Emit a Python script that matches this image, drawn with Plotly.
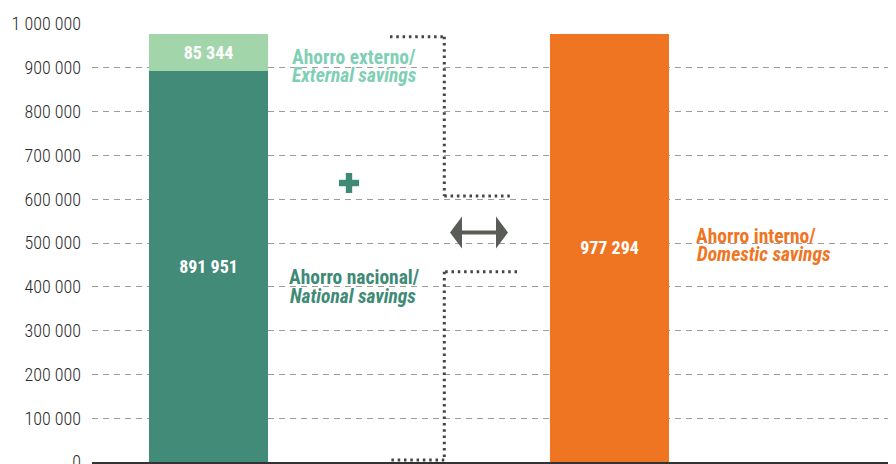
import plotly.graph_objects as go

# Data
bar_positions = [0, 1]
national_savings = [891951, None]
external_savings = [85344, None]
domestic_savings = [None, 977294]

y_tickvals = [0, 100000, 200000, 300000, 400000, 500000, 600000, 700000, 800000, 900000, 1000000]
y_ticktext = ["0", "100 000", "200 000", "300 000", "400 000", "500 000",
              "600 000", "700 000", "800 000", "900 000", "1 000 000"]

DARK_GREEN = "#428b78"
LIGHT_GREEN = "#a3d5aa"
ORANGE = "#f07522"
LABEL_EXT = "#80cfb5"
LABEL_NAT = "#3f8a76"
GREY = "#5a5c57"
FONT = "Roboto Condensed"

# the page body adds an 8px offset, so the figure is drawn 8px smaller
PAGE_OFF = 8
# plot area geometry (page pixels) used to place the decorations
X_LEFT, Y_TOP, Y_BOTTOM = 92, 24, 462
X_SCALE = 401.0        # px per x unit
Y_SCALE = 438.0 / 1e6  # px per y unit
X_RANGE = [-(208.5 - X_LEFT) / X_SCALE, 1 + (896 - 609.5) / X_SCALE]


def px2x(px):
    return (px - 208.5) / X_SCALE


def py2y(py):
    return (Y_BOTTOM - py) / Y_SCALE


def fmt(v):
    return f"{v:,}".replace(",", " ")


bar_width = 119 / X_SCALE
fig = go.Figure()

fig.add_trace(go.Bar(
    x=bar_positions, y=national_savings, width=bar_width,
    marker=dict(color=DARK_GREEN, line=dict(width=0)),
    text=[fmt(v) if v else "" for v in national_savings],
    name="Ahorro nacional"
))
fig.add_trace(go.Bar(
    x=bar_positions, y=external_savings, width=bar_width,
    marker=dict(color=LIGHT_GREEN, line=dict(width=0)),
    text=[fmt(v) if v else "" for v in external_savings],
    name="Ahorro externo"
))
fig.add_trace(go.Bar(
    x=bar_positions, y=domestic_savings, width=bar_width,
    marker=dict(color=ORANGE, line=dict(width=0)),
    text=[fmt(v) if v else "" for v in domestic_savings],
    name="Ahorro interno"
))
fig.update_traces(textposition="inside", insidetextanchor="middle",
                  textangle=0, cliponaxis=False,
                  textfont=dict(family=FONT, size=18, color="white", weight="bold"))

# Dotted brackets
dot_line = dict(color="#444444", width=3, dash="2.5px,3.8px")
top_bracket = [(390, 36.7), (444.3, 36.7), (444.3, 196), (512, 196)]
bottom_bracket = [(517, 271.7), (444.3, 271.7), (444.3, 460), (390, 460)]
for pts in (top_bracket, bottom_bracket):
    for (xa, ya), (xb, yb) in zip(pts[:-1], pts[1:]):
        fig.add_shape(type="line", xref="x", yref="y",
                      x0=px2x(xa), y0=py2y(ya), x1=px2x(xb), y1=py2y(yb),
                      line=dot_line, layer="above")

# Double arrow
ay = 232.5
arrow_pts = [(450, ay), (462, ay - 16), (462, ay - 2), (496, ay - 2), (496, ay - 16),
             (508, ay), (496, ay + 16), (496, ay + 2), (462, ay + 2), (462, ay + 16)]
path = "M " + " L ".join(f"{px2x(px)},{py2y(py)}" for px, py in arrow_pts) + " Z"
fig.add_shape(type="path", path=path, xref="x", yref="y",
              fillcolor=GREY, line=dict(width=0))

# Plus sign
cx, cy, arm, th = 349, 183, 10, 3.2
fig.add_shape(type="rect", xref="x", yref="y",
              x0=px2x(cx - arm), x1=px2x(cx + arm), y0=py2y(cy + th), y1=py2y(cy - th),
              fillcolor=LABEL_NAT, line=dict(width=0))
fig.add_shape(type="rect", xref="x", yref="y",
              x0=px2x(cx - th), x1=px2x(cx + th), y0=py2y(cy + arm), y1=py2y(cy - arm),
              fillcolor=LABEL_NAT, line=dict(width=0))

# Labels
labels = [
    ("Ahorro externo/", 290, 57, LABEL_EXT, False),
    ("External savings", 290, 75, LABEL_EXT, True),
    ("Ahorro nacional/", 287, 277, LABEL_NAT, False),
    ("National savings", 288, 296, LABEL_NAT, True),
    ("Ahorro interno/", 694, 236, ORANGE, False),
    ("Domestic savings", 695, 254, ORANGE, True),
]
for txt, lx, ly, col, ital in labels:
    fig.add_annotation(
        x=px2x(lx), y=py2y(ly), xref="x", yref="y", text=txt,
        showarrow=False, xanchor="left", yanchor="middle",
        font=dict(family=FONT, size=19.5, color=col, weight="bold",
                  style="italic" if ital else "normal")
    )

fig.update_layout(
    width=896 - PAGE_OFF, height=464 - PAGE_OFF,
    margin=dict(l=X_LEFT - PAGE_OFF, r=0, t=Y_TOP - PAGE_OFF, b=464 - Y_BOTTOM, autoexpand=False),
    paper_bgcolor="white", plot_bgcolor="white",
    barmode="stack", showlegend=False,
    xaxis=dict(range=X_RANGE, showticklabels=False, showgrid=False, zeroline=False,
               showline=True, linecolor="#333333", linewidth=1.5, fixedrange=True,
               automargin=False),
    yaxis=dict(range=[0, 1000000], tickvals=y_tickvals, ticktext=y_ticktext,
               showgrid=True, gridcolor="#9c9c9c", gridwidth=1, griddash="6px,5px",
               zeroline=False, showline=False, ticks="", ticklabelstandoff=10,
               ticklabeloverflow="allow", automargin=False,
               tickfont=dict(family=FONT, size=18, color="#2a2a2a", weight=300)),
)

fig.write_html("out.html")
